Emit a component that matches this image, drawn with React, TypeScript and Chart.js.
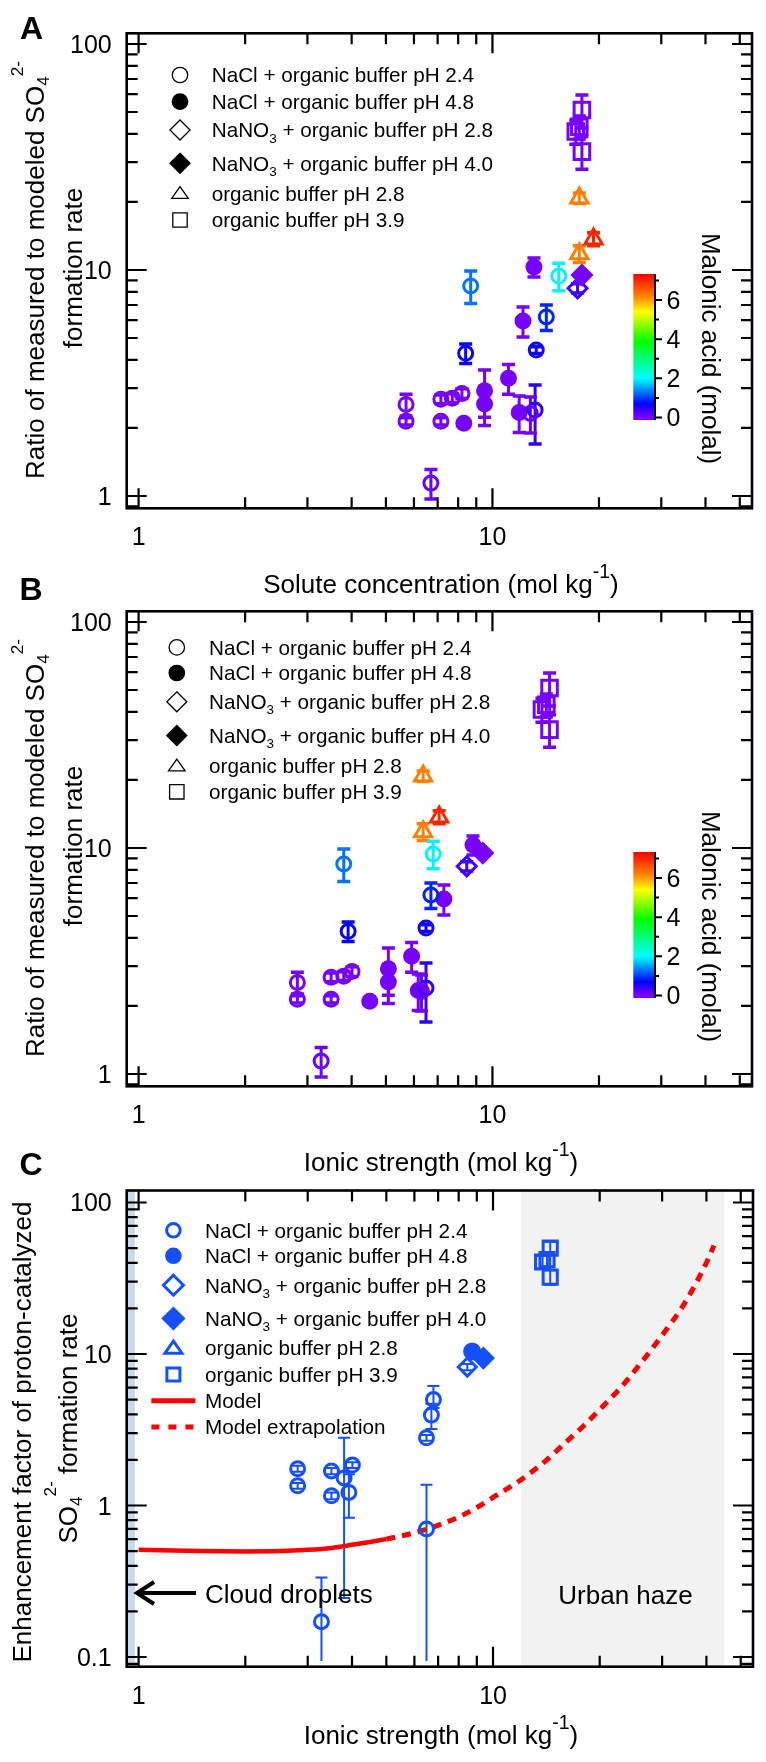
import React, { useEffect, useRef } from 'react';
import { Chart, registerables } from 'chart.js';

Chart.register(...registerables);

const W = 766;
const H = 1762;
const FONT = '"Liberation Sans", Arial, Helvetica, sans-serif';

/* ---------------- tick labels ---------------- */
const xTickLabels = [1, 10];
const yTickLabelsAB = [1, 10, 100];
const yTickLabelsC = [0.1, 1, 10, 100];
const colorbarLabels = [0, 2, 4, 6];
const colorbarMinorTicks = [1, 3, 5, 7];

/* ---------------- Panels A & B ---------------- */
// NaCl + organic buffer pH 2.4 (open circles)
const c24Solute = [5.7, 5.7, 7.15, 7.7, 8.2, 7.15, 6.7, 8.4, 13.3, 14.2, 13.2, 8.68, 15.4, 12.8];
const c24Ionic = [2.81, 2.81, 3.5, 3.8, 4.01, 3.5, 3.28, 3.91, 6.49, 6.7, 6.49, 3.8, 6.8, 6.3];
const c24Ratio = [2.54, 2.14, 2.68, 2.71, 2.84, 2.14, 1.14, 4.28, 4.42, 6.2, 2.4, 8.5, 9.4, 2.32];
const c24Err = [0.28, 0.08, 0.12, 0.12, 0.14, 0.08, 0.17, 0.42, 0.15, 0.8, 0.7, 1.4, 1.3, 0.42];
const c24Malonic = [0.05, 0.05, 0.05, 0.05, 0.05, 0.05, 0.1, 0.65, 0.6, 0.9, 0.45, 1.3, 1.95, 0.1];

// NaCl + organic buffer pH 4.8 (filled circles)
const c48Solute = [8.3, 9.5, 9.5, 11.1, 11.9, 12.2, 13.1];
const c48Ionic = [4.5, 5.08, 5.08, 5.91, 6.17, 7.29, 8.81];
const c48Ratio = [2.1, 2.92, 2.55, 3.32, 2.34, 5.95, 10.3];
const c48Err = [0.06, 0.69, 0.5, 0.5, 0.43, 0.9, 1.0];
const c48Malonic = [0.05, 0.05, 0.05, 0.05, 0.05, 0.05, 0.05];

// NaNO3 + organic buffer pH 2.8 (open diamond)
const n28Solute = [17.4];
const n28Ionic = [8.46];
const n28Ratio = [8.3];
const n28Err = [0.4];
const n28Malonic = [0.35];

// NaNO3 + organic buffer pH 4.0 (filled diamond)
const n40Solute = [17.9];
const n40Ionic = [9.39];
const n40Ratio = [9.5];
const n40Err = [0.3];
const n40Malonic = [0.05];

// organic buffer pH 2.8 (open triangles)
const o28Solute = [17.6, 17.6, 19.3];
const o28Ionic = [6.37, 6.37, 7.07];
const o28Ratio = [20.8, 11.8, 13.7];
const o28Err = [1.1, 1.0, 0.9];
const o28Malonic = [6.2, 6.2, 7.0];

// organic buffer pH 3.9 (open squares)
const o39Solute = [17.9, 17.2, 17.6, 17.9];
const o39Ionic = [14.5, 13.8, 14.2, 14.5];
const o39Ratio = [51, 41, 43, 33.4];
const o39Err = [8.5, 5, 5, 5.5];
const o39Malonic = [0.05, 0.05, 0.05, 0.05];

/* ---------------- Panel C ---------------- */
const e24Ionic = [2.81, 2.81, 3.5, 3.5, 3.8, 3.92, 4.01, 3.28, 6.49, 6.49, 6.7, 6.79];
const e24Enh = [1.75, 1.35, 1.69, 1.16, 1.52, 1.22, 1.85, 0.171, 0.7, 2.8, 3.95, 5.0];
const e24ErrMinus = [0.08, 0.06, 0.08, 0.06, 1.275, 0.39, 0.08, 0.077, 0.606, 0.12, 0.75, 0.6];
const e24ErrPlus = [0.08, 0.06, 0.08, 0.06, 1.28, 0.39, 0.08, 0.164, 0.67, 0.12, 0.75, 1.15];

const e48Ionic = [8.73];
const e48Enh = [10.4];
const e48Err = [0.4];

const en28Ionic = [8.46];
const en28Enh = [8.2];
const en28Err = [0.4];

const en40Ionic = [9.39];
const en40Enh = [9.4];
const en40Err = [0.3];

const eo39Ionic = [14.5, 13.8, 14.2, 14.5];
const eo39Enh = [50, 40.5, 42, 32.2];
const eo39Err = [5, 4, 4, 3.5];

// model curve (solid) and extrapolation (dotted)
const modelIonic = [1, 1.25, 1.5, 2, 2.5, 3, 3.5, 4, 4.5, 5];
const modelEnh = [0.51, 0.505, 0.5, 0.497, 0.5, 0.51, 0.525, 0.55, 0.575, 0.6];
const extrapIonic = [5, 6, 7, 8, 9, 10, 12, 14, 16, 18, 20, 22, 24, 26, 28, 30, 32, 34, 36, 38, 40, 42];
const extrapEnh = [0.6, 0.66, 0.74, 0.84, 0.97, 1.13, 1.48, 1.95, 2.6, 3.35, 4.3, 5.4, 6.8, 8.6, 10.7, 13.3, 16.3, 20, 25, 31.5, 40, 52];

// shaded regions (ionic strength)
const cloudRange = [0.5, 0.976];
const hazeRange = [12, 45];

/* ---------------- colour map (malonic acid, molal) ---------------- */
const CB_MIN = -0.13;
const CB_MAX = 7.33;
const cmapStops: [number, number[]][] = [
  [-0.13, [128, 0, 255]],
  [0, [128, 0, 255]],
  [0.7, [0, 0, 255]],
  [2.0, [0, 255, 255]],
  [3.9, [0, 255, 0]],
  [5.4, [255, 255, 0]],
  [6.2, [255, 128, 0]],
  [7.33, [255, 0, 0]],
];
function cmap(v: number): string {
  if (v <= cmapStops[0][0]) return `rgb(${cmapStops[0][1].join(',')})`;
  for (let i = 1; i < cmapStops.length; i++) {
    const [v1, c1] = cmapStops[i];
    const [v0, c0] = cmapStops[i - 1];
    if (v <= v1) {
      const f = (v - v0) / (v1 - v0 || 1);
      const c = c0.map((a, k) => Math.round(a + (c1[k] - a) * f));
      return `rgb(${c.join(',')})`;
    }
  }
  return `rgb(${cmapStops[cmapStops.length - 1][1].join(',')})`;
}

const C_BLUE = '#1450ff';

/* ---------------- axis ranges ---------------- */
const X_MIN = 0.9255;
const X_MAX = 54.14;
const AB_Y_MIN = 0.882;
const AB_Y_MAX = 111.5;
const C_Y_MIN = 0.0863;
const C_Y_MAX = 120;

/* ---------------- text helpers ---------------- */
type Seg = { t: string; s?: number; dy?: number };

function richWidth(ctx: any, segs: Seg[], size: number) {
  let w = 0;
  for (const sg of segs) {
    ctx.font = `${size * (sg.s ?? 1)}px ${FONT}`;
    w += ctx.measureText(sg.t).width;
  }
  return w;
}
function drawRich(ctx: any, segs: Seg[], x: number, y: number, size: number, align = 'left', color = '#000') {
  const total = richWidth(ctx, segs, size);
  let cx = align === 'center' ? x - total / 2 : align === 'right' ? x - total : x;
  ctx.fillStyle = color;
  ctx.textAlign = 'left';
  ctx.textBaseline = 'alphabetic';
  for (const sg of segs) {
    ctx.font = `${size * (sg.s ?? 1)}px ${FONT}`;
    ctx.fillText(sg.t, cx, y + (sg.dy ?? 0) * size);
    cx += ctx.measureText(sg.t).width;
  }
}
function drawRotated(ctx: any, segs: Seg[], x: number, y: number, size: number, angle: number) {
  ctx.save();
  ctx.translate(x, y);
  ctx.rotate(angle);
  drawRich(ctx, segs, 0, 0, size, 'center');
  ctx.restore();
}

function drawSymbol(ctx: any, shape: string, x: number, y: number, size: number, filled: boolean, color: string, lw: number) {
  ctx.save();
  ctx.beginPath();
  if (shape === 'circle') ctx.arc(x, y, size, 0, Math.PI * 2);
  else if (shape === 'diamond') {
    ctx.moveTo(x, y - size);
    ctx.lineTo(x + size, y);
    ctx.lineTo(x, y + size);
    ctx.lineTo(x - size, y);
    ctx.closePath();
  } else if (shape === 'triangle') {
    ctx.moveTo(x, y - size * 0.8);
    ctx.lineTo(x + size, y + size * 0.62);
    ctx.lineTo(x - size, y + size * 0.62);
    ctx.closePath();
  } else if (shape === 'square') {
    ctx.rect(x - size, y - size, size * 2, size * 2);
  }
  if (filled) {
    ctx.fillStyle = color;
    ctx.fill();
  }
  ctx.strokeStyle = color;
  ctx.lineWidth = lw;
  ctx.stroke();
  ctx.restore();
}

function logTicks(min: number, max: number) {
  const out: { v: number; major: boolean }[] = [];
  for (let k = Math.floor(Math.log10(min)); k <= Math.ceil(Math.log10(max)); k++) {
    for (let m = 1; m <= 9; m++) {
      const v = m * Math.pow(10, k);
      if (v >= min * 0.9999 && v <= max * 1.0001) out.push({ v, major: m === 1 });
    }
  }
  return out;
}
const fmt = (v: number) => (v < 1 ? String(v) : String(Math.round(v)));

/* ---------------- datasets ---------------- */
function markerDs(xs: number[], ys: number[], errM: number[], errP: number[], colors: string[], style: string, filled: boolean, radius: number, bar: any) {
  return {
    type: 'scatter',
    data: xs.map((x, i) => ({ x, y: ys[i] })),
    pointStyle: style,
    pointRadius: radius,
    pointHoverRadius: radius,
    pointBorderWidth: 3,
    pointHoverBorderWidth: 3,
    pointBorderColor: colors,
    pointBackgroundColor: filled ? colors : 'rgba(0,0,0,0)',
    showLine: false,
    errMinus: errM,
    errPlus: errP,
    bar,
  };
}

const AB_BAR = { barW: 3, capW: 13, capLW: 3.5 };
const C_BAR = { barW: 2, capW: 12, capLW: 2 };
const LEGEND_FONT = 20.7;

type Item = { shape: string; filled: boolean; segs: Seg[] };
const legendItems: Item[] = [
  { shape: 'circle', filled: false, segs: [{ t: 'NaCl + organic buffer pH 2.4' }] },
  { shape: 'circle', filled: true, segs: [{ t: 'NaCl + organic buffer pH 4.8' }] },
  { shape: 'diamond', filled: false, segs: [{ t: 'NaNO' }, { t: '3', s: 0.65, dy: 0.25 }, { t: ' + organic buffer pH 2.8' }] },
  { shape: 'diamond', filled: true, segs: [{ t: 'NaNO' }, { t: '3', s: 0.65, dy: 0.25 }, { t: ' + organic buffer pH 4.0' }] },
  { shape: 'triangle', filled: false, segs: [{ t: 'organic buffer pH 2.8' }] },
  { shape: 'square', filled: false, segs: [{ t: 'organic buffer pH 3.9' }] },
];

function decorPlugin(d: any) {
  return {
    id: 'decor' + d.letter,
    beforeDatasetsDraw(chart: any) {
      const { ctx, chartArea: a } = chart;
      const xs = chart.scales.x;
      const ys = chart.scales.y;
      ctx.save();
      ctx.beginPath();
      ctx.rect(a.left, a.top, a.right - a.left, a.bottom - a.top);
      ctx.clip();
      (d.bands || []).forEach((b: any) => {
        const x0 = Math.max(a.left, xs.getPixelForValue(b.range[0]));
        const x1 = Math.min(a.right, xs.getPixelForValue(b.range[1]));
        ctx.fillStyle = b.color;
        ctx.fillRect(x0, a.top, x1 - x0, a.bottom - a.top);
      });
      chart.data.datasets.forEach((ds: any) => {
        if (!ds.errPlus) return;
        const bar = ds.bar;
        ds.data.forEach((pt: any, i: number) => {
          const col = Array.isArray(ds.pointBorderColor) ? ds.pointBorderColor[i] : ds.pointBorderColor;
          const px = xs.getPixelForValue(pt.x);
          const hi = pt.y + ds.errPlus[i];
          const lo = pt.y - ds.errMinus[i];
          const yHi = ys.getPixelForValue(hi);
          const yLo = ys.getPixelForValue(Math.max(lo, 1e-6));
          ctx.strokeStyle = col;
          ctx.lineWidth = bar.barW;
          ctx.beginPath();
          ctx.moveTo(px, yHi);
          ctx.lineTo(px, yLo);
          ctx.stroke();
          ctx.lineWidth = bar.capLW;
          ctx.beginPath();
          ctx.moveTo(px - bar.capW / 2, yHi);
          ctx.lineTo(px + bar.capW / 2, yHi);
          if (lo >= 0.1) {
            ctx.moveTo(px - bar.capW / 2, yLo);
            ctx.lineTo(px + bar.capW / 2, yLo);
          }
          ctx.stroke();
        });
      });
      ctx.restore();
    },
    afterDatasetsDraw(chart: any) {
      const { ctx, chartArea: a } = chart;
      const xs = chart.scales.x;
      const ys = chart.scales.y;
      ctx.save();
      ctx.strokeStyle = '#000';
      ctx.lineWidth = 2.2;
      ctx.beginPath();
      for (const t of logTicks(X_MIN, X_MAX)) {
        const px = xs.getPixelForValue(t.v);
        const L = t.major ? 20 : 11;
        ctx.moveTo(px, a.bottom);
        ctx.lineTo(px, a.bottom - L);
        ctx.moveTo(px, a.top);
        ctx.lineTo(px, a.top + L);
      }
      for (const t of logTicks(d.yMin, d.yMax)) {
        const py = ys.getPixelForValue(t.v);
        const L = t.major ? 20 : 11;
        ctx.moveTo(a.left, py);
        ctx.lineTo(a.left + L, py);
        ctx.moveTo(a.right, py);
        ctx.lineTo(a.right - L, py);
      }
      ctx.stroke();
      ctx.lineWidth = 2.6;
      ctx.strokeRect(a.left, a.top, a.right - a.left, a.bottom - a.top);

      // tick labels
      ctx.fillStyle = '#000';
      ctx.font = `25px ${FONT}`;
      ctx.textBaseline = 'alphabetic';
      ctx.textAlign = 'center';
      for (const v of xTickLabels) ctx.fillText(fmt(v), xs.getPixelForValue(v), a.bottom + 37);
      ctx.textAlign = 'right';
      for (const v of d.yLabels) ctx.fillText(fmt(v), a.left - 15, ys.getPixelForValue(v) + 9);
      ctx.restore();
    },
    afterDraw(chart: any) {
      const { ctx } = chart;
      ctx.save();
      // panel letter
      ctx.fillStyle = '#000';
      ctx.font = `bold 32px ${FONT}`;
      ctx.textAlign = 'left';
      ctx.textBaseline = 'alphabetic';
      ctx.fillText(d.letter, d.letterPos[0], d.letterPos[1]);

      // axis titles
      drawRich(ctx, d.xTitle, 441, d.xTitleY, 26, 'center');
      d.yTitle.forEach((ln: any) => drawRotated(ctx, ln.segs, ln.x, ln.y, 26, -Math.PI / 2));

      // legend
      const lg = d.legend;
      lg.items.forEach((it: any, i: number) => {
        const ry = lg.rows[i];
        if (it.shape === 'line' || it.shape === 'dash') {
          ctx.save();
          ctx.strokeStyle = '#ff0000';
          ctx.lineWidth = 5;
          if (it.shape === 'dash') ctx.setLineDash([8, 9]);
          ctx.beginPath();
          ctx.moveTo(lg.symX - 22, ry);
          ctx.lineTo(lg.symX + 22, ry);
          ctx.stroke();
          ctx.restore();
        } else {
          const sz = lg.sizes[it.shape];
          drawSymbol(ctx, it.shape, lg.symX, ry, sz, it.filled, lg.color, lg.lw);
        }
        drawRich(ctx, it.segs, lg.textX, ry + 7.4, LEGEND_FONT, 'left');
      });

      // colorbar
      if (d.colorbar) {
        const cb = d.colorbar;
        const grad = ctx.createLinearGradient(0, cb.bottom, 0, cb.top);
        cmapStops.forEach(([v, c]) => grad.addColorStop((v - CB_MIN) / (CB_MAX - CB_MIN), `rgb(${c.join(',')})`));
        ctx.fillStyle = grad;
        ctx.fillRect(cb.left, cb.top, cb.right - cb.left, cb.bottom - cb.top);
        const vy = (v: number) => cb.bottom - ((v - CB_MIN) / (CB_MAX - CB_MIN)) * (cb.bottom - cb.top);
        ctx.strokeStyle = '#000';
        ctx.lineWidth = 2;
        ctx.beginPath();
        ctx.moveTo(cb.right, cb.top);
        ctx.lineTo(cb.right, cb.bottom);
        for (const v of colorbarLabels) {
          ctx.moveTo(cb.right, vy(v));
          ctx.lineTo(cb.right + 7, vy(v));
        }
        for (const v of colorbarMinorTicks) {
          ctx.moveTo(cb.right, vy(v));
          ctx.lineTo(cb.right + 4, vy(v));
        }
        ctx.stroke();
        ctx.fillStyle = '#000';
        ctx.font = `25px ${FONT}`;
        ctx.textAlign = 'left';
        for (const v of colorbarLabels) ctx.fillText(String(v), cb.right + 11.5, vy(v) + 9);
        ctx.save();
        ctx.translate(cb.titleX, cb.titleY);
        ctx.rotate(Math.PI / 2);
        drawRich(ctx, [{ t: 'Malonic acid (molal)' }], 0, 0, 26, 'center');
        ctx.restore();
      }

      // annotations (panel C)
      if (d.annot) {
        ctx.fillStyle = '#000';
        drawRich(ctx, [{ t: 'Cloud droplets' }], 205, 1603, 26, 'left');
        drawRich(ctx, [{ t: 'Urban haze' }], 625.5, 1603.5, 26, 'center');
        ctx.strokeStyle = '#000';
        ctx.lineWidth = 4;
        ctx.beginPath();
        ctx.moveTo(196, 1593);
        ctx.lineTo(138, 1593);
        ctx.stroke();
        ctx.beginPath();
        ctx.moveTo(154, 1582);
        ctx.lineTo(137, 1593);
        ctx.lineTo(154, 1604);
        ctx.stroke();
      }
      ctx.restore();
    },
  };
}

function baseConfig(area: any, yMin: number, yMax: number, datasets: any[], plugin: any) {
  return {
    type: 'scatter',
    data: { datasets },
    options: {
      responsive: false,
      animation: false,
      devicePixelRatio: 1,
      events: [],
      layout: {
        padding: { left: area.left, top: area.top, right: W - area.right, bottom: H - area.bottom },
      },
      plugins: { legend: { display: false }, tooltip: { enabled: false } },
      scales: {
        x: { type: 'logarithmic', display: false, min: X_MIN, max: X_MAX },
        y: { type: 'logarithmic', display: false, min: yMin, max: yMax },
      },
    },
    plugins: [plugin],
  };
}

function makeAB(panel: 'A' | 'B') {
  const dy = panel === 'A' ? 0 : 578;
  const ion = panel === 'B';
  const area = { left: 126.7, right: 756.7, top: 33.3 + dy, bottom: 508.3 + dy };
  const datasets = [
    markerDs(ion ? n40Ionic : n40Solute, n40Ratio, n40Err, n40Err, n40Malonic.map(cmap), 'rectRot', true, 9.5, AB_BAR),
    markerDs(ion ? n28Ionic : n28Solute, n28Ratio, n28Err, n28Err, n28Malonic.map(cmap), 'rectRot', false, 9.5, AB_BAR),
    markerDs(ion ? o28Ionic : o28Solute, o28Ratio, o28Err, o28Err, o28Malonic.map(cmap), 'triangle', false, 10, AB_BAR),
    markerDs(ion ? o39Ionic : o39Solute, o39Ratio, o39Err, o39Err, o39Malonic.map(cmap), 'rect', false, 11, AB_BAR),
    markerDs(ion ? c24Ionic : c24Solute, c24Ratio, c24Err, c24Err, c24Malonic.map(cmap), 'circle', false, 7, AB_BAR),
    markerDs(ion ? c48Ionic : c48Solute, c48Ratio, c48Err, c48Err, c48Malonic.map(cmap), 'circle', true, 7, AB_BAR),
  ];
  const legend =
    panel === 'A'
      ? { rows: [75, 101.7, 130, 163.3, 193.3, 220], symX: 180, textX: 211.7 }
      : { rows: [647.4, 673, 701.8, 735.5, 765.7, 791.8], symX: 176.8, textX: 209 };
  const decor = {
    letter: panel,
    letterPos: panel === 'A' ? [20, 38.6] : [19.5, 600],
    yMin: AB_Y_MIN,
    yMax: AB_Y_MAX,
    yLabels: yTickLabelsAB,
    xTitle: panel === 'A'
      ? [{ t: 'Solute concentration (mol kg' }, { t: '-1', s: 0.75, dy: -0.56 }, { t: ')' }]
      : [{ t: 'Ionic strength (mol kg' }, { t: '-1', s: 0.75, dy: -0.56 }, { t: ')' }],
    xTitleY: 593 + dy,
    yTitle: [
      { segs: [{ t: 'Ratio of measured to modeled SO' }, { t: '4', s: 0.66, dy: 0.2 }, { t: '2-', s: 0.66, dy: -0.82 }], x: 44, y: 270 + dy },
      { segs: [{ t: 'formation rate' }], x: 82, y: 268 + dy },
    ],
    legend: {
      ...legend,
      items: legendItems,
      color: '#000',
      lw: 1.3,
      sizes: { circle: 7.7, diamond: 10, triangle: 8.3, square: 7.2 },
    },
    colorbar: { left: 633.3, right: 655, top: 274 + dy, bottom: 420 + dy, titleX: 701.5, titleY: 348.5 + dy },
  };
  return baseConfig(area, AB_Y_MIN, AB_Y_MAX, datasets, decorPlugin(decor));
}

function makeC() {
  const area = { left: 126.7, right: 756.7, top: 1190.5, bottom: 1666.7 };
  const col = (n: number) => Array(n).fill(C_BLUE);
  const datasets = [
    markerDs(en40Ionic, en40Enh, en40Err, en40Err, col(1), 'rectRot', true, 9.5, C_BAR),
    markerDs(en28Ionic, en28Enh, en28Err, en28Err, col(1), 'rectRot', false, 9, C_BAR),
    markerDs(eo39Ionic, eo39Enh, eo39Err, eo39Err, col(4), 'rect', false, 10, C_BAR),
    markerDs(e24Ionic, e24Enh, e24ErrMinus, e24ErrPlus, col(e24Ionic.length), 'circle', false, 7, C_BAR),
    markerDs(e48Ionic, e48Enh, e48Err, e48Err, col(1), 'circle', true, 7.5, C_BAR),
    {
      type: 'scatter',
      data: modelIonic.map((x, i) => ({ x, y: modelEnh[i] })),
      showLine: true,
      borderColor: '#ff0000',
      borderWidth: 4.5,
      pointRadius: 0,
      cubicInterpolationMode: 'monotone',
    },
    {
      type: 'scatter',
      data: extrapIonic.map((x, i) => ({ x, y: extrapEnh[i] })),
      showLine: true,
      borderColor: '#ff0000',
      borderWidth: 5,
      borderDash: [9, 7],
      pointRadius: 0,
      cubicInterpolationMode: 'monotone',
    },
  ];
  const items: Item[] = [
    ...legendItems,
    { shape: 'line', filled: false, segs: [{ t: 'Model' }] },
    { shape: 'dash', filled: false, segs: [{ t: 'Model extrapolation' }] },
  ];
  const decor = {
    letter: 'C',
    letterPos: [19.5, 1175],
    yMin: C_Y_MIN,
    yMax: C_Y_MAX,
    yLabels: yTickLabelsC,
    xTitle: [{ t: 'Ionic strength (mol kg' }, { t: '-1', s: 0.75, dy: -0.56 }, { t: ')' }],
    xTitleY: 1744,
    yTitle: [
      { segs: [{ t: 'Enhancement factor of proton-catalyzed' }], x: 31, y: 1432 },
      { segs: [{ t: 'SO' }, { t: '4', s: 0.66, dy: 0.2 }, { t: '2-', s: 0.66, dy: -0.82 }, { t: ' formation rate' }], x: 77, y: 1428.5 },
    ],
    legend: {
      rows: [1230.3, 1255.8, 1285.2, 1318.5, 1347.9, 1374.5, 1400.8, 1427],
      symX: 173.4,
      textX: 205,
      items,
      color: C_BLUE,
      lw: 3,
      sizes: { circle: 6.8, diamond: 10, triangle: 8.5, square: 6.5 },
    },
    bands: [
      { range: cloudRange, color: '#c6dbef' },
      { range: hazeRange, color: '#f2f2f2' },
    ],
    annot: true,
  };
  return baseConfig(area, C_Y_MIN, C_Y_MAX, datasets, decorPlugin(decor));
}

const makeA = () => makeAB('A');
const makeB = () => makeAB('B');

function ChartCanvas({ make }: { make: () => any }) {
  const ref = useRef<HTMLCanvasElement>(null);
  useEffect(() => {
    const chart = new Chart(ref.current as HTMLCanvasElement, make());
    return () => chart.destroy();
  }, [make]);
  return (
    <canvas
      ref={ref}
      width={W}
      height={H}
      style={{ position: 'absolute', left: 0, top: 0, width: W, height: H }}
    />
  );
}

export default function App() {
  return (
    <div style={{ position: 'absolute', left: 0, top: 0, width: W, height: H, background: '#fff', overflow: 'hidden' }}>
      <ChartCanvas make={makeA} />
      <ChartCanvas make={makeB} />
      <ChartCanvas make={makeC} />
    </div>
  );
}
